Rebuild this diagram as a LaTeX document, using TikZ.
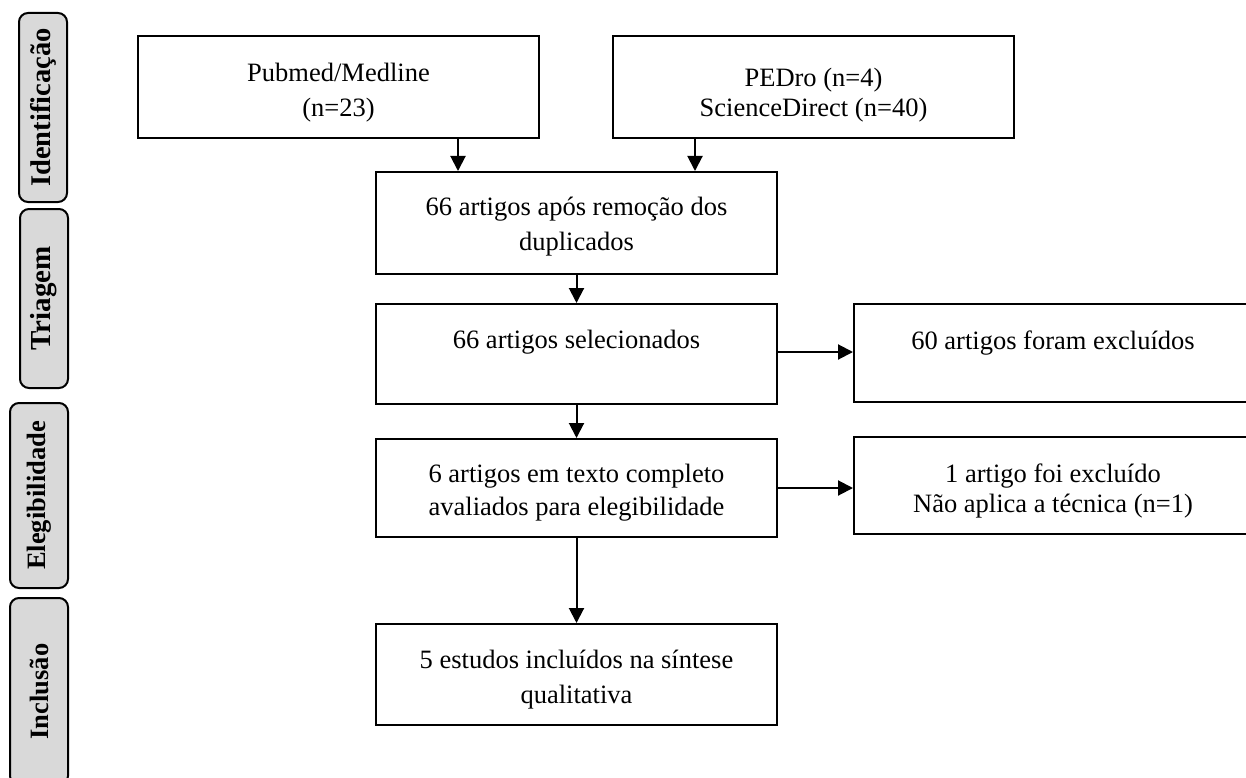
\documentclass[tikz,border=0pt]{standalone}
\usepackage{fontspec}
\setmainfont{Liberation Serif}
\usetikzlibrary{arrows.meta,positioning}

\tikzset{
  caixa/.style={draw, line width=2pt, rectangle, inner sep=0pt},
  texto/.style={align=center, inner sep=0pt, font=\fontsize{26.5}{35}\selectfont},
  fase/.style={draw, line width=2pt, rounded corners=9pt, fill=black!15,
    inner sep=0pt, rotate=90, font=\fontsize{26.5}{30}\selectfont\bfseries},
  seta/.style={line width=2pt, -{Triangle[length=15pt,width=15pt]}}
}

\begin{document}
\begin{tikzpicture}[x=1pt, y=-1pt]
  \useasboundingbox (0,0) rectangle (1246,778);

  % fases
  \node[fase, minimum width=189pt, minimum height=48pt, font=\fontsize{28.5}{30}\selectfont\bfseries] (ident) at (43,107.5) {Identificação};
  \node[fase, minimum width=179pt, minimum height=48pt, font=\fontsize{29}{30}\selectfont\bfseries] (triag) at (44,298.5) {Triagem};
  \node[fase, minimum width=185pt, minimum height=58pt] (elegi) at (39,495.5) {Elegibilidade};
  \node[fase, minimum width=187pt, minimum height=58pt] (inclu) at (39,691.5) {Inclusão};

  % caixas
  \node[caixa, minimum width=401pt, minimum height=102pt,
    label={[texto, yshift=-6pt]center:{Pubmed/Medline\\(n=23)}}] (pubmed) at (338.5,87) {};
  \node[caixa, minimum width=401pt, minimum height=102pt,
    label={[texto, yshift=-8pt, font=\fontsize{26.5}{30.5}\selectfont]center:{PEDro (n=4)\\ScienceDirect (n=40)}}] (pedro) at (813.5,87) {};
  \node[caixa, minimum width=401pt, minimum height=102pt,
    label={[texto, yshift=-4pt]center:{66 artigos após remoção dos\\duplicados}}] (remocao) at (576.5,223) {};
  \node[caixa, minimum width=401pt, minimum height=100pt,
    label={[texto, yshift=12pt]center:{66 artigos selecionados}}] (selec) at (576.5,354) {};
  \node[caixa, minimum width=398pt, minimum height=98pt,
    label={[texto, yshift=10pt]center:{60 artigos foram excluídos}}] (excl60) at (1053,353) {};
  \node[caixa, minimum width=401pt, minimum height=98pt,
    label={[texto, yshift=-5pt, font=\fontsize{26.5}{33}\selectfont]center:{6 artigos em texto completo\\avaliados para elegibilidade}}] (elig) at (576.5,488) {};
  \node[caixa, minimum width=398pt, minimum height=97pt,
    label={[texto, yshift=-5pt, font=\fontsize{26.5}{30}\selectfont]center:{1 artigo foi excluído\\Não aplica a técnica (n=1)}}] (excl1) at (1053,485.5) {};
  \node[caixa, minimum width=401pt, minimum height=101pt,
    label={[texto, yshift=-5pt]center:{5 estudos incluídos na síntese\\qualitativa}}] (incl) at (576.5,674.5) {};

  % setas
  \draw[seta] ([xshift=119.5pt]pubmed.south) -- ([xshift=119.5pt]pubmed.south |- remocao.north);
  \draw[seta] ([xshift=-118.5pt]pedro.south) -- ([xshift=-118.5pt]pedro.south |- remocao.north);
  \draw[seta] (remocao) -- (selec);
  \draw[seta] (selec) -- (elig);
  \draw[seta] (elig) -- (incl);
  \draw[seta] ([yshift=2pt]selec.east) -- ([yshift=2pt]selec.east -| excl60.west);
  \draw[seta] (elig.east) -- (elig.east -| excl1.west);
\end{tikzpicture}
\end{document}
